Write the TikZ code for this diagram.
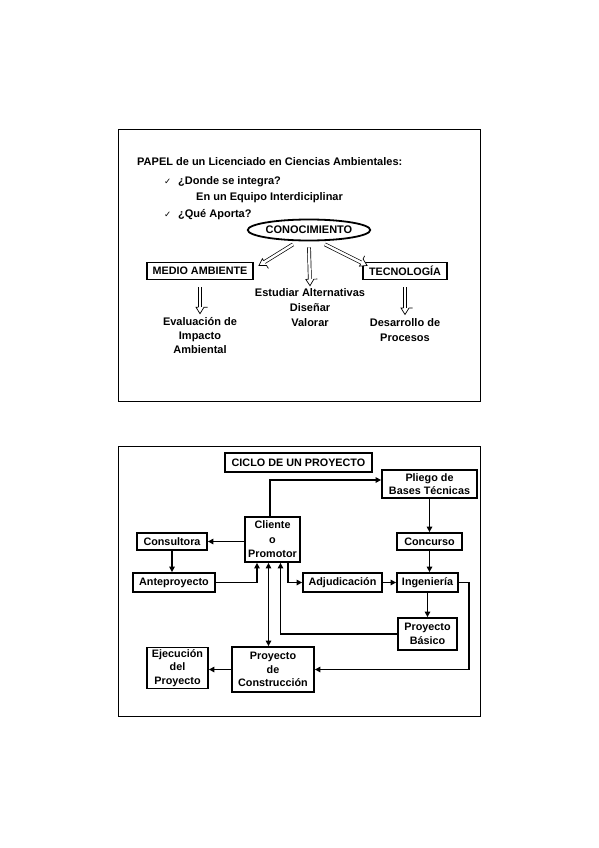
\documentclass[tikz,border=0pt]{standalone}
\usepackage{fontspec}
\setmainfont{Liberation Sans}
\newfontfamily\symfont{DejaVu Sans}
\usetikzlibrary{arrows.meta,shapes.geometric,decorations.markings}
\newcommand{\chk}{\makebox[14pt][l]{\symfont\fontsize{8.5}{9}\selectfont ✓}}

\begin{document}
\begin{tikzpicture}[x=1pt,y=-1pt,>={Triangle[length=5.5pt,width=5.5pt]},
    every node/.style={font=\bfseries\fontsize{10.8}{13.5}\selectfont},
    big/.style={font=\bfseries\fontsize{11}{#1}\selectfont},
    big/.default=13.5,
    panel/.style={draw,line width=1pt},
    box/.style={draw,line width=1.8pt,inner sep=1pt,align=center},
    txt/.style={big,inner sep=0pt,anchor=base west},
    lbl/.style={inner sep=0pt,align=center},
    link/.style={->,line width=1.4pt},
    hollow/.style={double,line width=0.7pt,double distance=2.4pt,shorten >=6pt,
      postaction={decorate,decoration={markings,mark=at position 1 with {
        \fill[white] (-6.5pt,-4pt) -- (0,0) -- (-6.5pt,4pt) -- cycle;
        \draw[line width=0.7pt,line join=miter] (-6.5pt,-1.55pt) -- (-6.5pt,-4pt)
          -- (0,0) -- (-6.5pt,4pt) -- (-6.5pt,1.55pt);}}}}]
  \useasboundingbox (0,0) rectangle (599,848);
  \draw[panel] (118,130) rectangle (480,401);
  \draw[panel] (118,446) rectangle (480,716);

  \node[txt] (papel) at (137,165) {PAPEL de un Licenciado en Ciencias Ambientales:};
  \node[txt] (donde) at (164,184) {\chk¿Donde se integra?};
  \node[txt] (equipo) at (196,200) {En un Equipo Interdiciplinar};
  \node[txt] (aporta) at (164,217) {\chk¿Qué Aporta?};
  \node[ellipse,draw,line width=1.8pt,minimum width=110pt,minimum height=21pt,
        inner sep=0pt,big] (conoc) at (309,230) {CONOCIMIENTO};
  \node[box,minimum width=106pt,minimum height=17pt] (medio) at (200,271) {MEDIO AMBIENTE};
  \node[box,minimum width=84pt,minimum height=17pt] (tecno) at (405,271) {TECNOLOGÍA};
  \node[lbl,big=15] (estud) at (310,308) {Estudiar Alternativas\\Diseñar\\Valorar};
  \node[lbl,big=14] (evalu) at (200,336) {Evaluación de\\Impacto\\Ambiental};
  \node[lbl,big=14.5] (desarr) at (405,330) {Desarrollo de\\Procesos};
  \draw[hollow] ([xshift=-16pt,yshift=-3pt]conoc.south) -- ([xshift=5pt,yshift=5.5pt]medio.east);
  \draw[hollow] ([xshift=16pt,yshift=-3pt]conoc.south) -- ([xshift=5pt,yshift=5.5pt]tecno.west);
  \draw[hollow] ([yshift=-6pt]conoc.south) -- ([yshift=3pt]estud.north);
  \draw[hollow] ([yshift=-7pt]medio.south) -- ([yshift=4pt]evalu.north);
  \draw[hollow] ([yshift=-7pt]tecno.south) -- ([yshift=4pt]desarr.north);

  \node[box,minimum width=147pt,minimum height=19pt] (ciclo) at (298.5,462.5) {CICLO DE UN PROYECTO};
  \node[box,minimum width=95pt,minimum height=28pt] (pliego) at (429.5,484) {Pliego de\\Bases Técnicas};
  \node[box,minimum width=55pt,minimum height=45pt,font=\bfseries\fontsize{10.8}{14.5}\selectfont]
       (cliente) at (272.5,539.5) {Cliente\\o\\Promotor};
  \node[box,minimum width=70pt,minimum height=17pt] (consul) at (172,541.5) {Consultora};
  \node[box,minimum width=65pt,minimum height=17pt] (concur) at (429.5,541.5) {Concurso};
  \node[box,minimum width=82pt,minimum height=19pt] (antep) at (174,582.5) {Anteproyecto};
  \node[box,minimum width=79pt,minimum height=19pt] (adjud) at (342.5,582.5) {Adjudicación};
  \node[box,minimum width=61pt,minimum height=19pt] (ingen) at (427.5,582.5) {Ingeniería};
  \node[box,minimum width=59pt,minimum height=32pt,font=\bfseries\fontsize{10.8}{14.5}\selectfont]
       (basico) at (427.5,634) {Proyecto\\Básico};
  \node[box,minimum width=82pt,minimum height=45pt] (constr) at (273,669.5) {Proyecto\\de\\Construcción};
  \node[box,minimum width=61pt,minimum height=41pt] (ejec) at (177.5,668) {Ejecución\\del\\Proyecto};

  \draw[link] ([xshift=-2.5pt]cliente.north) |- ([yshift=4pt]pliego.west);
  \draw[link] (pliego.south) -- (pliego.south |- concur.north);
  \draw[link] (concur.south) -- (concur.south |- ingen.north);
  \draw[link] (cliente.west |- consul.east) -- (consul.east);
  \draw[link] (consul.south) -- (consul.south |- antep.north);
  \draw[link] (antep.east) -| ([xshift=-15.5pt]cliente.south);
  \draw[link,<->] ([xshift=-4pt]cliente.south) -- ([xshift=-4pt]cliente.south |- constr.north);
  \draw[link] (basico.west) -| ([xshift=8pt]cliente.south);
  \draw[link] ([xshift=15.5pt]cliente.south) |- (adjud.west);
  \draw[link] (adjud) -- (ingen);
  \draw[link] (ingen) -- (basico);
  \draw[link] (ingen.east) -- ++(10,0) |- (constr.east);
  \draw[link] (constr.west) -- (constr.west -| ejec.east);
\end{tikzpicture}
\end{document}
